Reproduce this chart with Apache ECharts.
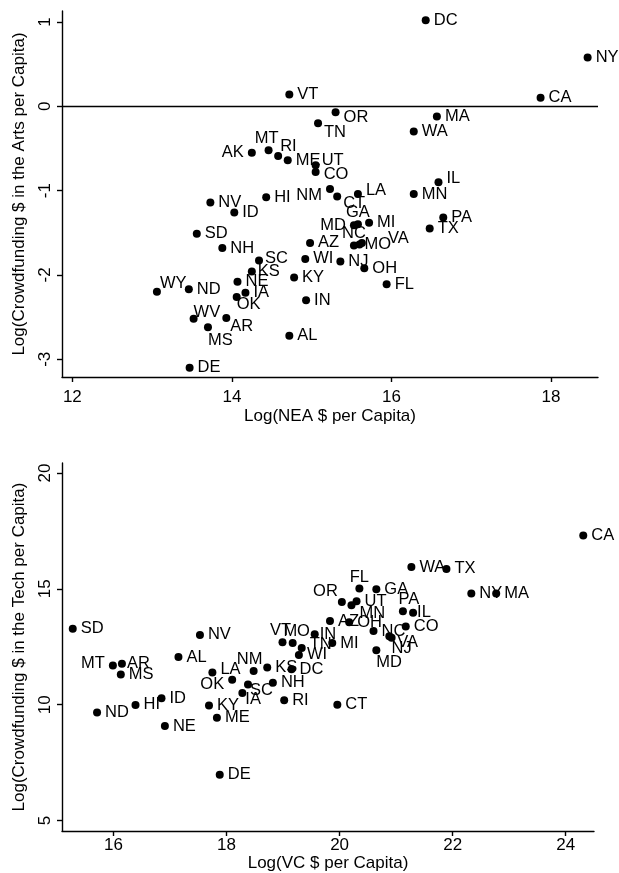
<!DOCTYPE html>
<html>
<head>
<meta charset="utf-8">
<script src="https://cdn.jsdelivr.net/npm/echarts@6/dist/echarts.min.js"></script>
<style>
html,body{margin:0;padding:0;background:#fff;}
#chart{width:619px;height:873px;}
</style>
</head>
<body>
<div id="chart"></div>
<script>
// ---- Top panel: arts crowdfunding vs NEA funding ----
const topStates = ['DC','NY','CA','VT','OR','TN','MA','WA','AK','MT','RI','ME','UT','CO','NM','CT','LA','MN','IL','PA','TX','MI','GA','MD','NC','MO','VA','AZ','WI','NJ','OH','FL','KY','IN','AL','HI','NV','ID','SD','NH','SC','KS','NE','IA','OK','WY','ND','WV','AR','MS','DE'];
const topX = [16.43,18.46,17.87,14.72,15.30,15.08,16.57,16.28,14.25,14.46,14.58,14.70,15.05,15.05,15.23,15.32,15.58,16.28,16.59,16.65,16.48,15.72,15.58,15.53,15.53,15.60,15.63,14.98,14.92,15.36,15.66,15.94,14.78,14.93,14.72,14.43,13.73,14.03,13.56,13.88,14.34,14.25,14.07,14.17,14.06,13.06,13.46,13.52,13.93,13.70,13.47];
const topY = [1.02,0.58,0.10,0.14,-0.07,-0.20,-0.12,-0.30,-0.55,-0.52,-0.59,-0.64,-0.70,-0.78,-0.98,-1.07,-1.04,-1.04,-0.90,-1.32,-1.45,-1.38,-1.40,-1.41,-1.65,-1.64,-1.62,-1.62,-1.81,-1.84,-1.92,-2.11,-2.03,-2.30,-2.72,-1.08,-1.14,-1.26,-1.51,-1.68,-1.83,-1.96,-2.08,-2.21,-2.26,-2.20,-2.17,-2.52,-2.51,-2.62,-3.10];
const topXTicks = [12,14,16,18];
const topYTicks = [-3,-2,-1,0,1];

// ---- Bottom panel: tech crowdfunding vs VC funding ----
const botStates = ['CA','WA','TX','NY','MA','FL','GA','OR','UT','MN','PA','IL','AZ','OH','CO','NC','VA','NJ','MD','MI','IN','MO','VT','TN','WI','DC','KS','NH','RI','CT','NM','LA','OK','SC','IA','KY','ME','DE','NV','AL','SD','MT','AR','MS','ID','HI','ND','NE'];
const botX = [24.31,21.27,21.89,22.33,22.77,20.35,20.65,20.04,20.30,20.21,21.12,21.30,19.83,20.17,21.17,20.60,20.88,20.92,20.65,19.87,19.56,19.17,18.99,19.33,19.28,19.15,18.72,18.82,19.02,19.96,18.48,17.75,18.10,18.38,18.28,17.69,17.83,17.88,17.53,17.15,15.28,15.99,16.15,16.13,16.85,16.39,15.71,16.91];
const botY = [17.30,15.94,15.86,14.80,14.80,15.01,14.98,14.43,14.46,14.29,14.03,13.97,13.61,13.56,13.38,13.18,12.95,12.89,12.35,12.66,13.04,12.66,12.69,12.45,12.15,11.53,11.60,10.95,10.19,10.00,11.45,11.39,11.08,10.87,10.51,9.97,9.44,6.98,13.01,12.06,13.28,11.69,11.77,11.30,10.28,9.99,9.66,9.08];
const botXTicks = [16,18,20,22,24];
const botYTicks = [5,10,15,20];

// ---- label placement (styling only) ----
const topLabelPlace = {
  TN:['right',-2,9], OR:['right',0,5], MT:['top',-2,2], RI:['right',-6,-10], UT:['right',-2,-5],
  CO:['right',0,2], AK:['left',0,0], NM:['left',0,7], CT:['right',-2,7], LA:['right',0,-4],
  IL:['right',0,-4], GA:['top',0,2], MD:['left',0,0], NC:['top',0,2], MO:['right',-3,0],
  VA:['right',18,-4], SC:['right',-2,-2], KS:['right',-2,0], OK:['right',-8,8], WY:['right',-5,-8],
  WV:['right',-8,-6], AR:['right',-4,8], MS:['right',-8,13]
};
const botLabelPlace = {
  FL:['top',0,2], OR:['left',4,-11], MN:['right',0,8], PA:['top',6,2], IL:['right',-4,0],
  VA:['right',0,6], NJ:['right',-8,11], MD:['right',-8,12], VT:['top',-2,2], MO:['top',4,2],
  IN:['right',-3,0], TN:['right',0,-3], NM:['top',-4,2], LA:['right',0,-3], OK:['left',0,5],
  SC:['right',-6,6], IA:['right',-5,7], MT:['left',0,-2], AR:['right',-3,0]
};

const FONT = '"Liberation Sans", Arial, Helvetica, sans-serif';

function buildData(states, xs, ys, place) {
  return states.map((s, i) => {
    const p = place[s] || ['right',0,0];
    return {
      name: s,
      value: [xs[i], ys[i]],
      label: {
        position: p[0],
        distance: p[0] === 'top' ? 1 : 4,
        offset: [p[1], p[2]]
      }
    };
  });
}

function xAxisCfg(idx, min, max, ticks, name, margin, nameGap) {
  return {
    gridIndex: idx, type: 'value', min: min, max: max,
    name: name, nameLocation: 'middle', nameGap: nameGap,
    nameTextStyle: {fontFamily: FONT, fontSize: 17, color: '#000'},
    axisLine: {show: true, onZero: false, lineStyle: {color: '#000', width: 1.4}},
    axisTick: {show: true, length: 5, customValues: ticks, lineStyle: {color: '#000', width: 1.4}},
    axisLabel: {customValues: ticks, margin: margin, fontFamily: FONT, fontSize: 17, color: '#000'},
    splitLine: {show: false}
  };
}
function yAxisCfg(idx, min, max, ticks, name) {
  return {
    gridIndex: idx, type: 'value', min: min, max: max,
    name: name, nameLocation: 'middle', nameGap: 34, nameRotate: 90,
    nameTextStyle: {fontFamily: FONT, fontSize: 17, color: '#000'},
    axisLine: {show: true, onZero: false, lineStyle: {color: '#000', width: 1.4}},
    axisTick: {show: true, length: 5, customValues: ticks, lineStyle: {color: '#000', width: 1.4}},
    axisLabel: {customValues: ticks, rotate: 90, margin: 8, fontFamily: FONT, fontSize: 17, color: '#000'},
    splitLine: {show: false}
  };
}

const labelBase = {show: true, formatter: '{b}', fontFamily: FONT, fontSize: 16.5, color: '#000'};

const chart = echarts.init(document.getElementById('chart'), null, {renderer: 'canvas'});
chart.setOption({
  animation: false,
  backgroundColor: '#fff',
  grid: [
    {left: 62, right: 21, top: 11, height: 366},
    {left: 62, right: 25, top: 463, height: 368}
  ],
  xAxis: [
    xAxisCfg(0, 11.87, 18.59, topXTicks, 'Log(NEA $ per Capita)', 12, 31),
    xAxisCfg(1, 15.09, 24.5, botXTicks, 'Log(VC $ per Capita)', 6, 24)
  ],
  yAxis: [
    yAxisCfg(0, -3.21, 1.13, topYTicks, 'Log(Crowdfunding $ in the Arts per Capita)'),
    yAxisCfg(1, 4.55, 20.43, botYTicks, 'Log(Crowdfunding $ in the Tech per Capita)')
  ],
  series: [
    {
      type: 'scatter', xAxisIndex: 0, yAxisIndex: 0,
      symbol: 'circle', symbolSize: 8,
      itemStyle: {color: '#000', opacity: 1},
      label: labelBase,
      data: buildData(topStates, topX, topY, topLabelPlace),
      markLine: {
        silent: true, symbol: 'none', label: {show: false},
        lineStyle: {color: '#000', width: 1.4, type: 'solid', opacity: 1},
        data: [{yAxis: 0}]
      }
    },
    {
      type: 'scatter', xAxisIndex: 1, yAxisIndex: 1,
      symbol: 'circle', symbolSize: 8,
      itemStyle: {color: '#000', opacity: 1},
      label: labelBase,
      data: buildData(botStates, botX, botY, botLabelPlace)
    }
  ]
});
</script>
</body>
</html>
